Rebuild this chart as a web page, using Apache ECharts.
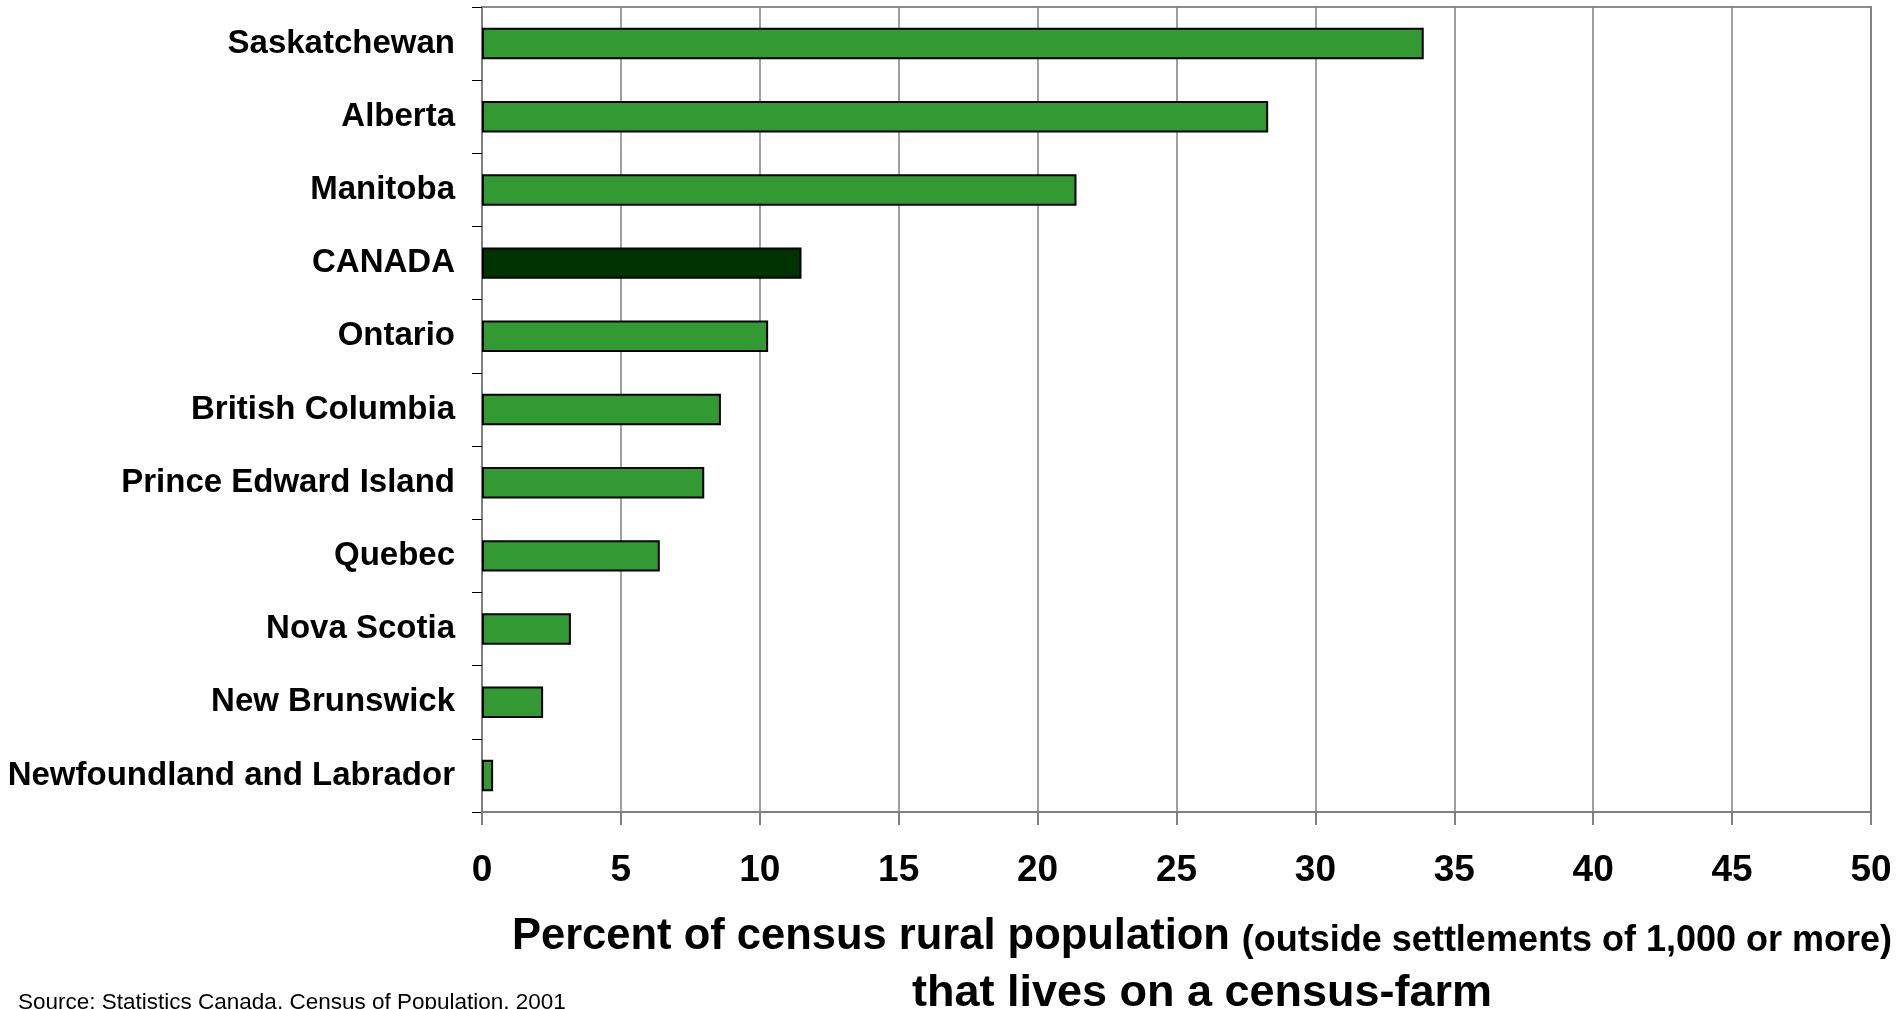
<!DOCTYPE html>
<html>
<head>
<meta charset="utf-8">
<title>Census-farm share of rural population</title>
<script src="https://cdn.jsdelivr.net/npm/echarts@6/dist/echarts.min.js"></script>
<style>
  html, body { margin: 0; padding: 0; background: #fff; }
  #chart { width: 1897px; height: 1009px; }
</style>
</head>
<body>
<div id="chart"></div>
<script>
// provinces, top to bottom
var provinces = ['Saskatchewan', 'Alberta', 'Manitoba', 'CANADA', 'Ontario', 'British Columbia',
    'Prince Edward Island', 'Quebec', 'Nova Scotia', 'New Brunswick', 'Newfoundland and Labrador'];
var farmShare = [33.9, 28.3, 21.4, 11.5, 10.3, 8.6, 8.0, 6.4, 3.2, 2.2, 0.4];
var xTicks = [0, 5, 10, 15, 20, 25, 30, 35, 40, 45, 50];

var font = "'Liberation Sans', Arial, sans-serif";

var myChart = echarts.init(document.getElementById('chart'));
var option = {
    animation: false,
    grid: {
        left: 482,
        right: 26,
        top: 7,
        bottom: 197,
        show: true,
        borderColor: '#8c8c8c',
        borderWidth: 2,
        containLabel: false
    },
    xAxis: {
        type: 'value',
        min: xTicks[0],
        max: xTicks[xTicks.length - 1],
        interval: 5,
        axisLine: { show: true, lineStyle: { color: '#808080', width: 2 } },
        axisTick: { show: true, length: 13, lineStyle: { color: '#808080', width: 2 } },
        splitLine: { show: true, lineStyle: { color: '#808080', width: 1.5 } },
        axisLabel: {
            margin: 40,
            fontFamily: font,
            fontWeight: 'bold',
            fontSize: 37,
            color: '#000'
        }
    },
    yAxis: {
        type: 'category',
        inverse: true,
        data: provinces,
        axisLine: { show: true, lineStyle: { color: '#808080', width: 2 } },
        axisTick: { show: true, length: 10, lineStyle: { color: '#000', width: 1 } },
        axisLabel: {
            margin: 27,
            padding: [4, 0, 0, 0],
            fontFamily: font,
            fontWeight: 'bold',
            fontSize: 33,
            color: '#000'
        }
    },
    graphic: [
        {
            type: 'text',
            x: 1202,
            y: 933,
            style: {
                text: '{a|Percent of census rural population}{b|(outside settlements of 1,000 or more)}',
                align: 'center',
                verticalAlign: 'middle',
                rich: {
                    a: { fontFamily: font, fontWeight: 'bold', fontSize: 43.5, lineHeight: 52, verticalAlign: 'bottom', fill: '#000' },
                    b: { fontFamily: font, fontWeight: 'bold', fontSize: 36, lineHeight: 52, verticalAlign: 'bottom', padding: [0, 0, 0, 12], fill: '#000' }
                }
            }
        },
        {
            type: 'text',
            x: 1202,
            y: 994,
            style: {
                text: 'that lives on a census-farm',
                align: 'center',
                verticalAlign: 'middle',
                font: 'bold 45px ' + font,
                fill: '#000'
            }
        },
        {
            type: 'text',
            x: 18,
            y: 1003,
            style: {
                text: 'Source: Statistics Canada, Census of Population, 2001',
                align: 'left',
                verticalAlign: 'middle',
                font: '22.5px ' + font,
                fill: '#000'
            }
        }
    ],
    series: [{
        type: 'bar',
        data: farmShare.map(function (v, i) {
            return {
                value: v,
                itemStyle: { color: provinces[i] === 'CANADA' ? '#003300' : '#339933' }
            };
        }),
        barWidth: '43%',
        itemStyle: { borderColor: '#000', borderWidth: 2 }
    }]
};
myChart.setOption(option);
</script>
</body>
</html>
